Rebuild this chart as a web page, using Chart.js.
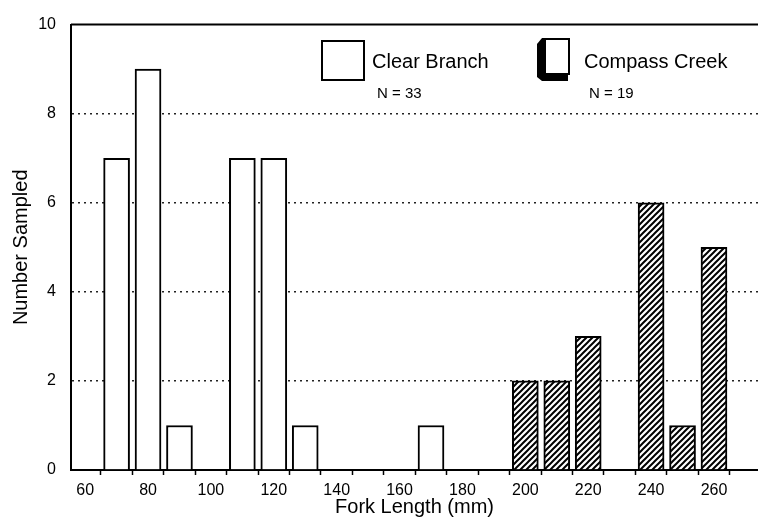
<!DOCTYPE html>
<html>
<head>
<meta charset="utf-8">
<script src="https://cdn.jsdelivr.net/npm/chart.js@4.4.1/dist/chart.umd.min.js"></script>
<style>
  html, body { margin: 0; padding: 0; background: #fff; }
  #wrap { width: 758px; height: 517px; position: relative; }
</style>
</head>
<body>
<div id="wrap"><canvas id="forkChart"></canvas></div>
<script>
// fork length bins (mm) and counts
var clearLengths = [70, 80, 90, 110, 120, 130, 170];
var clearCounts = [7, 9, 1, 7, 7, 1, 1];
var compassLengths = [200, 210, 220, 240, 250, 260];
var compassCounts = [2, 2, 3, 6, 1, 5];
var yTicks = [0, 2, 4, 6, 8, 10];
var xLabelTicks = [60, 80, 100, 120, 140, 160, 180, 200, 220, 240, 260];

var FONT = '"Liberation Sans", Arial, sans-serif';
Chart.defaults.font.family = FONT;
Chart.defaults.color = '#000';

function toPoints(xs, ys) {
    var pts = [];
    for (var i = 0; i < xs.length; i++) pts.push({x: xs[i], y: ys[i]});
    return pts;
}

// diagonal hatch for Compass Creek bars
function makeHatch() {
    var c = document.createElement('canvas');
    c.width = 6; c.height = 6;
    var g = c.getContext('2d');
    g.fillStyle = '#fff';
    g.fillRect(0, 0, 6, 6);
    g.strokeStyle = '#000';
    g.lineWidth = 2;
    g.beginPath();
    g.moveTo(0, 6); g.lineTo(6, 0);
    g.moveTo(-1, 1); g.lineTo(1, -1);
    g.moveTo(5, 7); g.lineTo(7, 5);
    g.stroke();
    return g.createPattern(c, 'repeat');
}

var frameAndLegend = {
    id: 'frameAndLegend',
    afterDatasetsDraw: function(chart) {
        var ctx = chart.ctx, a = chart.chartArea;
        ctx.save();
        // solid top border at y = 10
        ctx.strokeStyle = '#000';
        ctx.lineWidth = 2;
        ctx.beginPath();
        ctx.moveTo(a.left, a.top);
        ctx.lineTo(a.right, a.top);
        ctx.stroke();

        // legend: Clear Branch
        ctx.lineWidth = 2;
        ctx.fillStyle = '#fff';
        ctx.fillRect(322, 41, 42, 39);
        ctx.strokeRect(322, 41, 42, 39);
        // legend: Compass Creek (shadowed box)
        ctx.fillStyle = '#000';
        ctx.beginPath();
        ctx.moveTo(537, 44);
        ctx.lineTo(542, 38);
        ctx.lineTo(568, 38);
        ctx.lineTo(568, 81);
        ctx.lineTo(542, 81);
        ctx.lineTo(537, 77);
        ctx.closePath();
        ctx.fill();
        ctx.fillStyle = '#fff';
        ctx.fillRect(545, 39, 24, 35);
        ctx.strokeRect(545, 39, 24, 35);

        ctx.fillStyle = '#000';
        ctx.textBaseline = 'alphabetic';
        ctx.textAlign = 'left';
        ctx.font = '20px ' + FONT;
        ctx.fillText('Clear Branch', 372, 68);
        ctx.fillText('Compass Creek', 584, 68);
        ctx.font = '15px ' + FONT;
        ctx.fillText('N = 33', 377, 98);
        ctx.fillText('N = 19', 589, 98);
        ctx.restore();
    }
};

var section = document.getElementById('forkChart');
var myChart = new Chart(section, {
    type: 'bar',
    data: {
        datasets: [{
            label: 'Clear Branch',
            data: toPoints(clearLengths, clearCounts),
            backgroundColor: '#fff',
            borderColor: '#000',
            borderWidth: 2,
            borderSkipped: 'bottom',
            barThickness: 26,
            grouped: false
        }, {
            label: 'Compass Creek',
            data: toPoints(compassLengths, compassCounts),
            backgroundColor: makeHatch(),
            borderColor: '#000',
            borderWidth: 2,
            borderSkipped: 'bottom',
            barThickness: 26,
            grouped: false
        }]
    },
    options: {
        responsive: true,
        maintainAspectRatio: false,
        animation: false,
        layout: { padding: { top: 17, right: 0, left: 0, bottom: 0 } },
        plugins: { legend: { display: false }, tooltip: { enabled: false } },
        scales: {
            x: {
                type: 'linear',
                min: 55.5,
                max: 274,
                offset: false,
                afterBuildTicks: function(scale) {
                    var t = [];
                    for (var v = 60; v <= 270; v += 5) t.push({value: v});
                    scale.ticks = t;
                },
                afterFit: function(scale) { scale.height = 47; },
                ticks: {
                    autoSkip: false,
                    maxRotation: 0,
                    padding: 6,
                    font: { size: 16 },
                    callback: function(v) { return xLabelTicks.indexOf(v) >= 0 ? String(v) : ''; }
                },
                grid: {
                    offset: false,
                    drawOnChartArea: false,
                    drawTicks: true,
                    tickLength: 5,
                    tickWidth: 1.5,
                    tickColor: function(c) { return (c.tick && c.tick.value % 10 === 5) ? '#000' : 'rgba(0,0,0,0)'; }
                },
                border: { display: true, color: '#000', width: 2 },
                title: {
                    display: true,
                    text: 'Fork Length (mm)',
                    font: { size: 20, lineHeight: 1 },
                    padding: { top: 0, bottom: 0 }
                }
            },
            y: {
                min: 0,
                max: 10,
                afterBuildTicks: function(scale) {
                    scale.ticks = yTicks.map(function(v) { return {value: v}; });
                },
                afterFit: function(scale) { scale.width = 71; },
                ticks: { padding: 15, font: { size: 16 } },
                grid: {
                    drawTicks: false,
                    lineWidth: 1.5,
                    color: function(c) {
                        var v = c.tick ? c.tick.value : 0;
                        return (v === 0 || v === 10) ? 'rgba(0,0,0,0)' : '#222';
                    }
                },
                border: { display: true, color: '#000', width: 2, dash: [2, 4] },
                title: {
                    display: true,
                    text: 'Number Sampled',
                    font: { size: 20, lineHeight: 1 },
                    padding: { top: 11, bottom: 0 }
                }
            }
        }
    },
    plugins: [frameAndLegend]
});
</script>
</body>
</html>
